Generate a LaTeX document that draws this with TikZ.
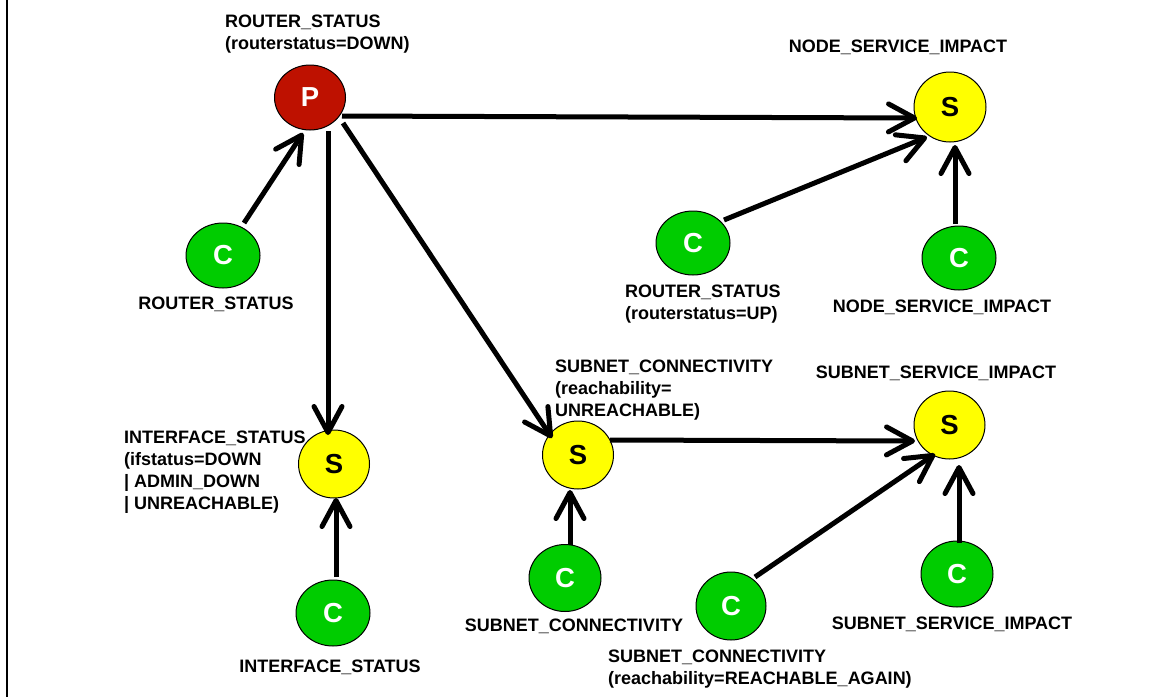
\documentclass[tikz,border=0pt]{standalone}
\usepackage{fontspec}
\setmainfont{Liberation Sans}
\usetikzlibrary{shapes.geometric,arrows.meta}
\definecolor{pred}{RGB}{190,17,0}
\definecolor{cgreen}{RGB}{0,204,0}
\definecolor{syellow}{RGB}{255,255,0}
\begin{document}
\begin{tikzpicture}[x=1pt,y=-1pt,
  ev/.style={ellipse,draw=black,line width=1pt,inner sep=0pt,font=\fontsize{27.5}{30}\selectfont\bfseries},
  pnode/.style={ev,fill=pred,text=white},
  snode/.style={ev,fill=syellow,text=black},
  cnode/.style={ev,fill=cgreen,text=white},
  lbl/.style={inner sep=0pt,align=left,font=\fontsize{18}{22}\selectfont\bfseries},
  arr/.style={line width=5pt,-{Straight Barb[length=26pt,width=28pt,round]}}
]
\useasboundingbox (0,0) rectangle (1160,697);
\draw[line width=2pt] (7,0) -- (7,697);

% event nodes
\node[pnode,minimum width=71pt,minimum height=65pt] (P) at (310,97.5) {P};
\node[cnode,minimum width=74pt,minimum height=65pt] (C1) at (223,255.5) {C};
\node[snode,minimum width=71pt,minimum height=68pt] (Sif) at (334,464) {S};
\node[cnode,minimum width=74pt,minimum height=66pt] (Cif) at (333,613) {C};
\node[snode,minimum width=71pt,minimum height=68pt] (Ssc) at (578,455) {S};
\node[cnode,minimum width=72pt,minimum height=67pt] (Csc) at (565,578) {C};
\node[cnode,minimum width=70pt,minimum height=68pt] (Csc2) at (731,606) {C};
\node[snode,minimum width=71pt,minimum height=68pt] (Ssi) at (949.5,425) {S};
\node[cnode,minimum width=72pt,minimum height=66pt] (Cssi) at (957,574) {C};
\node[snode,minimum width=72pt,minimum height=70pt] (Snsi) at (950,107) {S};
\node[cnode,minimum width=74pt,minimum height=64pt] (Crs2) at (693,243) {C};
\node[cnode,minimum width=74pt,minimum height=64pt] (Cnsi) at (959,258) {C};

% labels (multi-line labels are anchored at the baseline of their last line)
\node[lbl,anchor=base west] (lP) at (225,49) {ROUTER\_STATUS\\(routerstatus=DOWN)};
\node[lbl,anchor=base] (lNSI) at (898,52) {NODE\_SERVICE\_IMPACT};
\node[lbl,anchor=base] (lC1) at (216,309) {ROUTER\_STATUS};
\node[lbl,anchor=base west] (lSif) at (124,509) {INTERFACE\_STATUS\\(ifstatus=DOWN\\| ADMIN\_DOWN\\| UNREACHABLE)};
\node[lbl,anchor=base] (lCif) at (330,672) {INTERFACE\_STATUS};
\node[lbl,anchor=base west] (lSsc) at (555,416) {SUBNET\_CONNECTIVITY\\(reachability=\\UNREACHABLE)};
\node[lbl,anchor=base] (lSsi) at (936,378) {SUBNET\_SERVICE\_IMPACT};
\node[lbl,anchor=base] (lCsc) at (574,631) {SUBNET\_CONNECTIVITY};
\node[lbl,anchor=base west] (lCsc2) at (608,684) {SUBNET\_CONNECTIVITY\\(reachability=REACHABLE\_AGAIN)};
\node[lbl,anchor=base] (lCssi) at (952,629) {SUBNET\_SERVICE\_IMPACT};
\node[lbl,anchor=base west] (lCrs2) at (625,319) {ROUTER\_STATUS\\(routerstatus=UP)};
\node[lbl,anchor=base] (lCnsi) at (942,312) {NODE\_SERVICE\_IMPACT};

% connectors
\draw[arr] ([shift={(21,-32.5)}]C1.center) -- ([shift={(-7,35.5)}]P.center);
\draw[arr] ([shift={(18,33.5)}]P.center) -- ([shift={(-6,-29)}]Sif.center);
\draw[arr] ([shift={(33,25.5)}]P.center) -- ([shift={(-26,-17)}]Ssc.center);
\draw[arr] ([shift={(32,18.5)}]P.center) -- ([shift={(-33,11)}]Snsi.center);
\draw[arr] ([shift={(31,-23)}]Crs2.center) -- ([shift={(-23,30)}]Snsi.center);
\draw[arr] ([shift={(-4,-34)}]Cnsi.center) -- ([shift={(5,38)}]Snsi.center);
\draw[arr] ([shift={(3,-36)}]Cif.center) -- ([shift={(2,34)}]Sif.center);
\draw[arr] ([shift={(5,-33)}]Csc.center) -- ([shift={(-8,35)}]Ssc.center);
\draw[arr] ([shift={(32,-15)}]Ssc.center) -- ([shift={(-34.5,16)}]Ssi.center);
\draw[arr] ([shift={(24,-29)}]Csc2.center) -- ([shift={(-14.5,29)}]Ssi.center);
\draw[arr] ([shift={(2,-31)}]Cssi.center) -- ([shift={(9.5,40)}]Ssi.center);
\end{tikzpicture}
\end{document}
